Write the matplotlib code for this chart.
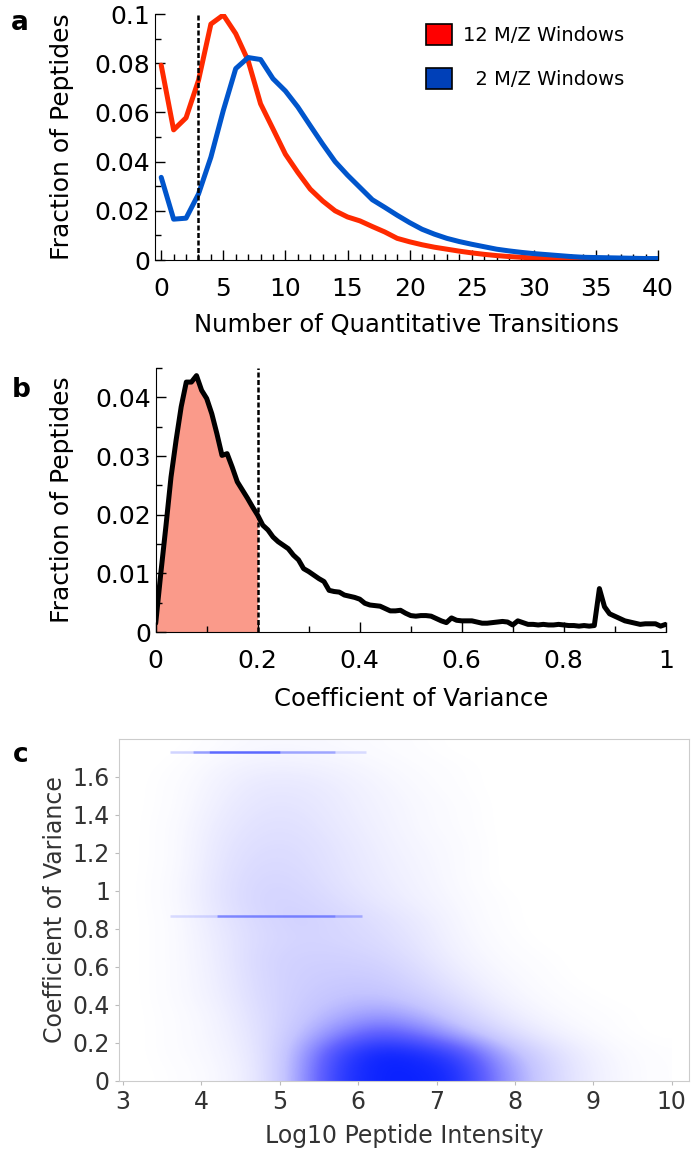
import numpy as np
import matplotlib
matplotlib.use("Agg")
import matplotlib.pyplot as plt
from matplotlib.patches import Patch
from matplotlib.colors import LinearSegmentedColormap
from matplotlib.ticker import MultipleLocator, FuncFormatter

plt.rcParams['font.family'] = ['DejaVu Sans']

# --- panel a: transitions per peptide ---
n_trans = list(range(0, 41))
frac_12win = [0.0792, 0.0529, 0.0578, 0.0730, 0.0959, 0.0996, 0.0920, 0.0810, 0.0635, 0.0533,
              0.0430, 0.0356, 0.0288, 0.0240, 0.0200, 0.0175, 0.0159, 0.0136, 0.0114, 0.0088,
              0.0074, 0.0062, 0.0052, 0.0044, 0.0036, 0.0029, 0.0023, 0.0018, 0.0014, 0.0011,
              0.0008, 0.0006, 0.0005, 0.0004, 0.0003, 0.0002, 0.0002, 0.0001, 0.0001, 0.0001,
              0.0001]
frac_2win = [0.0336, 0.0166, 0.0170, 0.0268, 0.0418, 0.0608, 0.0778, 0.0823, 0.0815, 0.0737,
             0.0687, 0.0622, 0.0546, 0.0471, 0.0400, 0.0345, 0.0295, 0.0245, 0.0214, 0.0182,
             0.0152, 0.0125, 0.0105, 0.0088, 0.0075, 0.0064, 0.0054, 0.0044, 0.0037, 0.0031,
             0.0026, 0.0022, 0.0018, 0.0014, 0.0011, 0.0010, 0.0009, 0.0008, 0.0007, 0.0006,
             0.0006]
trans_cutoff = 3

# --- panel b: CV distribution ---
cv_bins = [round(0.01 * i, 2) for i in range(101)]
cv_frac = [0.0015, 0.0100, 0.0180, 0.0264, 0.0327, 0.0384, 0.0426, 0.0426, 0.0437, 0.0412,
           0.0398, 0.0372, 0.0338, 0.0301, 0.0304, 0.0281, 0.0256, 0.0242, 0.0228, 0.0213,
           0.0199, 0.0182, 0.0174, 0.0162, 0.0154, 0.0148, 0.0142, 0.0131, 0.0123, 0.0108,
           0.0103, 0.0097, 0.0091, 0.0086, 0.0071, 0.0069, 0.0068, 0.0063, 0.0061, 0.0059,
           0.0056, 0.0049, 0.0046, 0.0045, 0.0044, 0.0040, 0.0036, 0.0036, 0.0037, 0.0032,
           0.0028, 0.0027, 0.0028, 0.0028, 0.0027, 0.0023, 0.0019, 0.0016, 0.0024, 0.0020,
           0.0019, 0.0019, 0.0019, 0.0017, 0.0015, 0.0015, 0.0016, 0.0017, 0.0018, 0.0017,
           0.0012, 0.0019, 0.0016, 0.0013, 0.0013, 0.0012, 0.0013, 0.0012, 0.0012, 0.0013,
           0.0012, 0.0011, 0.0011, 0.0010, 0.0011, 0.0010, 0.0011, 0.0074, 0.0043, 0.0031,
           0.0027, 0.0023, 0.0019, 0.0017, 0.0015, 0.0013, 0.0014, 0.0014, 0.0014, 0.0010,
           0.0013]
cv_cutoff = 0.2

# --- panel c: CV vs intensity, binned point density (0 = empty, 1 = saturated) ---
dens_x = [3.25, 3.75, 4.25, 4.75, 5.25, 5.75, 6.25, 6.75, 7.25, 7.75, 8.25, 8.75, 9.25, 9.75]
dens_y = [0.05, 0.15, 0.25, 0.35, 0.45, 0.55, 0.65, 0.75, 0.85, 0.95,
          1.05, 1.15, 1.25, 1.35, 1.45, 1.55, 1.65, 1.75]
density = [
    [0.00, 0.01, 0.04, 0.13, 0.45, 0.88, 1.00, 1.00, 0.95, 0.58, 0.32, 0.14, 0.05, 0.01],
    [0.00, 0.02, 0.05, 0.15, 0.42, 0.82, 1.00, 0.96, 0.82, 0.48, 0.27, 0.12, 0.04, 0.01],
    [0.00, 0.02, 0.06, 0.17, 0.34, 0.55, 0.72, 0.62, 0.42, 0.25, 0.12, 0.05, 0.01, 0.00],
    [0.00, 0.02, 0.07, 0.19, 0.30, 0.40, 0.48, 0.40, 0.27, 0.14, 0.06, 0.02, 0.01, 0.00],
    [0.00, 0.03, 0.09, 0.21, 0.28, 0.33, 0.34, 0.28, 0.18, 0.08, 0.03, 0.01, 0.00, 0.00],
    [0.00, 0.03, 0.10, 0.22, 0.27, 0.29, 0.29, 0.22, 0.12, 0.05, 0.02, 0.00, 0.00, 0.00],
    [0.00, 0.03, 0.11, 0.23, 0.26, 0.26, 0.24, 0.17, 0.08, 0.03, 0.01, 0.00, 0.00, 0.00],
    [0.00, 0.03, 0.12, 0.21, 0.24, 0.23, 0.20, 0.14, 0.06, 0.02, 0.00, 0.00, 0.00, 0.00],
    [0.00, 0.03, 0.14, 0.22, 0.26, 0.23, 0.18, 0.12, 0.05, 0.01, 0.00, 0.00, 0.00, 0.00],
    [0.00, 0.04, 0.16, 0.24, 0.24, 0.19, 0.13, 0.08, 0.04, 0.01, 0.00, 0.00, 0.00, 0.00],
    [0.00, 0.04, 0.16, 0.23, 0.22, 0.16, 0.11, 0.07, 0.03, 0.00, 0.00, 0.00, 0.00, 0.00],
    [0.00, 0.03, 0.15, 0.21, 0.20, 0.15, 0.10, 0.06, 0.03, 0.00, 0.00, 0.00, 0.00, 0.00],
    [0.00, 0.03, 0.14, 0.19, 0.19, 0.14, 0.09, 0.05, 0.03, 0.00, 0.00, 0.00, 0.00, 0.00],
    [0.00, 0.03, 0.12, 0.17, 0.17, 0.12, 0.08, 0.04, 0.02, 0.00, 0.00, 0.00, 0.00, 0.00],
    [0.00, 0.02, 0.10, 0.15, 0.15, 0.11, 0.07, 0.04, 0.02, 0.00, 0.00, 0.00, 0.00, 0.00],
    [0.00, 0.02, 0.08, 0.13, 0.13, 0.10, 0.06, 0.03, 0.01, 0.00, 0.00, 0.00, 0.00, 0.00],
    [0.00, 0.01, 0.06, 0.09, 0.09, 0.07, 0.04, 0.02, 0.01, 0.00, 0.00, 0.00, 0.00, 0.00],
    [0.00, 0.00, 0.02, 0.04, 0.04, 0.03, 0.02, 0.01, 0.00, 0.00, 0.00, 0.00, 0.00, 0.00],
]
# CV values pile up at sqrt(3) and sqrt(3)/2 -> horizontal streaks
streak_y = [1.732, 0.866]
streak_start = [[3.6, 3.9, 4.1, 5.0, 5.7], [3.6, 4.2, 5.7]]
streak_end = [[3.9, 4.1, 5.0, 5.7, 6.1], [4.2, 5.7, 6.05]]
streak_alpha = [[0.2, 0.45, 0.7, 0.4, 0.15], [0.15, 0.5, 0.3]]

red = '#ff2a00'
blue = '#0055cc'
fmt = FuncFormatter(lambda v, p: f'{round(v, 4):g}')

fig = plt.figure(figsize=(6.91, 11.5), dpi=100)

# ---------------- a ----------------
ax1 = fig.add_axes([155 / 691, 1 - 260 / 1150, 503 / 691, 246 / 1150])
ax1.plot(n_trans, frac_12win, color=red, lw=3.6, solid_capstyle='round')
ax1.plot(n_trans, frac_2win, color=blue, lw=3.6, solid_capstyle='round')
ax1.axvline(trans_cutoff, color='black', lw=1.8, ls=(0, (2, 1)))
ax1.set_xlim(-0.5, 40)
ax1.set_ylim(0, 0.1)
ax1.xaxis.set_major_locator(MultipleLocator(5))
ax1.xaxis.set_minor_locator(MultipleLocator(1))
ax1.yaxis.set_major_locator(MultipleLocator(0.02))
ax1.yaxis.set_minor_locator(MultipleLocator(0.01))
ax1.xaxis.set_major_formatter(fmt)
ax1.yaxis.set_major_formatter(fmt)
ax1.set_xlabel('Number of Quantitative Transitions', fontsize=17.5, labelpad=9)
ax1.set_ylabel('Fraction of Peptides', fontsize=18, labelpad=15)
handles = [Patch(facecolor='#ff0000', edgecolor='black', lw=1.2),
           Patch(facecolor='#0040b8', edgecolor='black', lw=1.2)]
ax1.legend(handles, ['12 M/Z Windows', '  2 M/Z Windows'], loc='upper left',
           bbox_to_anchor=(426 / 691, 1 - 24 / 1150), bbox_transform=fig.transFigure,
           frameon=False, fontsize=14, borderpad=0, borderaxespad=0,
           handlelength=1.35, handleheight=1.25, handletextpad=0.55, labelspacing=1.2)

# ---------------- b ----------------
ax2 = fig.add_axes([155.7 / 691, 1 - 632 / 1150, 510 / 691, 264 / 1150])
cv_x = np.array(cv_bins)
cv_y = np.array(cv_frac)
keep = cv_x <= cv_cutoff + 1e-9
ax2.fill_between(cv_x[keep], 0, cv_y[keep], color='#fa9a8a', lw=0)
ax2.plot(cv_x, cv_y, color='black', lw=3.6, solid_joinstyle='round', solid_capstyle='round')
ax2.axvline(cv_cutoff, color='black', lw=1.8, ls=(0, (2, 1)))
ax2.set_xlim(0, 1)
ax2.set_ylim(0, 0.045)
ax2.xaxis.set_major_locator(MultipleLocator(0.2))
ax2.xaxis.set_minor_locator(MultipleLocator(0.1))
ax2.yaxis.set_major_locator(MultipleLocator(0.01))
ax2.yaxis.set_minor_locator(MultipleLocator(0.005))
ax2.xaxis.set_major_formatter(fmt)
ax2.yaxis.set_major_formatter(fmt)
ax2.set_xlabel('Coefficient of Variance', fontsize=17.5, labelpad=10)
ax2.set_ylabel('Fraction of Peptides', fontsize=18, labelpad=15)

for ax in (ax1, ax2):
    ax.spines['top'].set_visible(False)
    ax.spines['right'].set_visible(False)
    ax.tick_params(which='both', direction='in', labelsize=18, width=1)
    ax.tick_params(which='major', length=7)
    ax.tick_params(which='minor', length=4)
    ax.tick_params(axis='x', which='both', pad=12)

# ---------------- c ----------------
ax3 = fig.add_axes([119 / 691, 1 - 1081 / 1150, 570 / 691, 342 / 1150])
cmap = LinearSegmentedColormap.from_list('dens', ['#ffffff', '#c4c4ff', '#6464ff', '#0a22ff'])
ax3.imshow(np.array(density), origin='lower', aspect='auto', cmap=cmap, vmin=0, vmax=1,
           interpolation='bicubic',
           extent=[dens_x[0] - 0.25, dens_x[-1] + 0.25, dens_y[0] - 0.05, dens_y[-1] + 0.05])
for yv, xs, xe, al in zip(streak_y, streak_start, streak_end, streak_alpha):
    for a0, a1, a in zip(xs, xe, al):
        ax3.hlines(yv, a0, a1, color='#1a2cff', alpha=a, lw=1.8)
ax3.set_xlim(2.95, 10.22)
ax3.set_ylim(0, 1.8)
ax3.set_xticks(range(3, 11))
ax3.set_yticks(np.arange(0, 1.61, 0.2))
ax3.xaxis.set_major_formatter(fmt)
ax3.yaxis.set_major_formatter(fmt)
for s in ax3.spines.values():
    s.set_color('#cccccc')
ax3.tick_params(colors='#bbbbbb', labelcolor='#333333', labelsize=17, length=3)
ax3.set_xlabel('Log10 Peptide Intensity', fontsize=17, color='#333333', labelpad=7)
ax3.set_ylabel('Coefficient of Variance', fontsize=17, color='#333333', labelpad=4)

fig.text(20 / 691, 1 - 23 / 1150, 'a', fontsize=19, fontweight='bold', ha='center', va='center')
fig.text(21 / 691, 1 - 390 / 1150, 'b', fontsize=19, fontweight='bold', ha='center', va='center')
fig.text(21 / 691, 1 - 755 / 1150, 'c', fontsize=19, fontweight='bold', ha='center', va='center')

fig.savefig('out.png', dpi=100)
